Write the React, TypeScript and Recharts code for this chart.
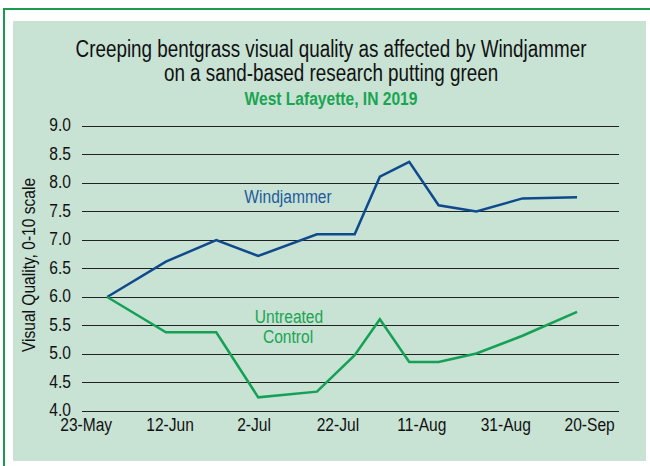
import { CartesianGrid, Line, LineChart, XAxis, YAxis } from "recharts";

const startDate = "2019-05-23";
const sampleDates = [
  "2019-05-28",
  "2019-06-11",
  "2019-06-23",
  "2019-07-03",
  "2019-07-17",
  "2019-07-26",
  "2019-08-01",
  "2019-08-08",
  "2019-08-15",
  "2019-08-24",
  "2019-09-04",
  "2019-09-17",
];
const windjammer = [6.0, 6.62, 7.0, 6.72, 7.1, 7.1, 8.11, 8.37, 7.61, 7.5, 7.73, 7.75];
const untreated = [6.0, 5.38, 5.38, 4.24, 4.34, 4.98, 5.61, 4.86, 4.86, 5.01, 5.32, 5.74];
const xTickLabels = ["23-May", "12-Jun", "2-Jul", "22-Jul", "11-Aug", "31-Aug", "20-Sep"];
const yTicks = [4, 4.5, 5, 5.5, 6, 6.5, 7, 7.5, 8, 8.5, 9];

// no narrow font installed, so squeeze Liberation Sans like Arial Narrow
const FONT = "'Liberation Sans', Arial, sans-serif";
const SQUEEZE = 0.82;
const BLUE = "#0f4a8c";
const GREEN = "#14a055";

const dayMs = 24 * 60 * 60 * 1000;
const daysFromStart = (d: string) =>
  Math.round((Date.parse(d) - Date.parse(startDate)) / dayMs);

const data = sampleDates.map((d, i) => ({
  day: daysFromStart(d),
  windjammer: windjammer[i],
  untreated: untreated[i],
}));

const xTicks = xTickLabels.map((_, i) => i * 20);

const NText = ({ x, y, rotate = 0, children, ...rest }: any) => (
  <text
    x={0}
    y={0}
    fontFamily={FONT}
    transform={`translate(${x} ${y}) rotate(${rotate}) scale(${SQUEEZE} 1)`}
    {...rest}
  >
    {children}
  </text>
);

const YTick = ({ x, y, payload }: any) => (
  <NText x={x - 3} y={y + 5} textAnchor="end" fill="#111" fontSize={19}>
    {Number(payload.value).toFixed(1)}
  </NText>
);

const XTick = ({ x, y, payload }: any) => (
  <NText x={x} y={y + 12} textAnchor="middle" fill="#111" fontSize={19}>
    {xTickLabels[xTicks.indexOf(payload.value)]}
  </NText>
);

export default function App() {
  return (
    <div style={{ position: "absolute", left: 0, top: 0, width: 650, height: 466, overflow: "hidden", background: "#fff" }}>
      <div
        style={{
          position: "absolute",
          left: 3,
          top: 8,
          width: 700,
          height: 500,
          borderLeft: "2px solid #1c9b50",
          borderTop: "2px solid #1c9b50",
        }}
      />
      <div
        style={{
          position: "absolute",
          left: 13,
          top: 21,
          width: 633,
          height: 440,
          background: "#c8e2d4",
        }}
      />
      <div style={{ position: "absolute", left: 0, top: 0 }}>
        <LineChart width={650} height={466} data={data} margin={{ top: 126, right: 31, bottom: 25, left: 0 }}>
          <CartesianGrid vertical={false} stroke="#222" strokeWidth={1} shapeRendering="crispEdges" />
          <XAxis
            dataKey="day"
            type="number"
            domain={[-1, 127]}
            ticks={xTicks}
            tick={<XTick />}
            axisLine={false}
            tickLine={false}
            height={30}
          />
          <YAxis
            domain={[4, 9]}
            ticks={yTicks}
            tick={<YTick />}
            axisLine={false}
            tickLine={false}
            width={82}
          />
          <Line
            type="linear"
            dataKey="windjammer"
            stroke={BLUE}
            strokeWidth={2.5}
            dot={false}
            isAnimationActive={false}
          />
          <Line
            type="linear"
            dataKey="untreated"
            stroke={GREEN}
            strokeWidth={2.5}
            dot={false}
            isAnimationActive={false}
          />
        </LineChart>
      </div>
      <svg width={650} height={466} style={{ position: "absolute", left: 0, top: 0, pointerEvents: "none" }}>
        <NText x={331} y={57} textAnchor="middle" fontSize={23} fill="#111">
          Creeping bentgrass visual quality as affected by Windjammer
        </NText>
        <NText x={331} y={81} textAnchor="middle" fontSize={23} fill="#111">
          on a sand-based research putting green
        </NText>
        <NText x={331} y={105} textAnchor="middle" fontSize={19} fontWeight="bold" fill="#19a552">
          West Lafayette, IN 2019
        </NText>
        <NText x={35} y={265} rotate={-90} textAnchor="middle" fontSize={19} fill="#111">
          Visual Quality, 0-10 scale
        </NText>
        <NText x={288} y={203} textAnchor="middle" fontSize={19} fill="#1f5a9a">
          Windjammer
        </NText>
        <NText x={289} y={323} textAnchor="middle" fontSize={19} fill="#19a552">
          Untreated
        </NText>
        <NText x={288} y={343} textAnchor="middle" fontSize={19} fill="#19a552">
          Control
        </NText>
      </svg>
    </div>
  );
}
